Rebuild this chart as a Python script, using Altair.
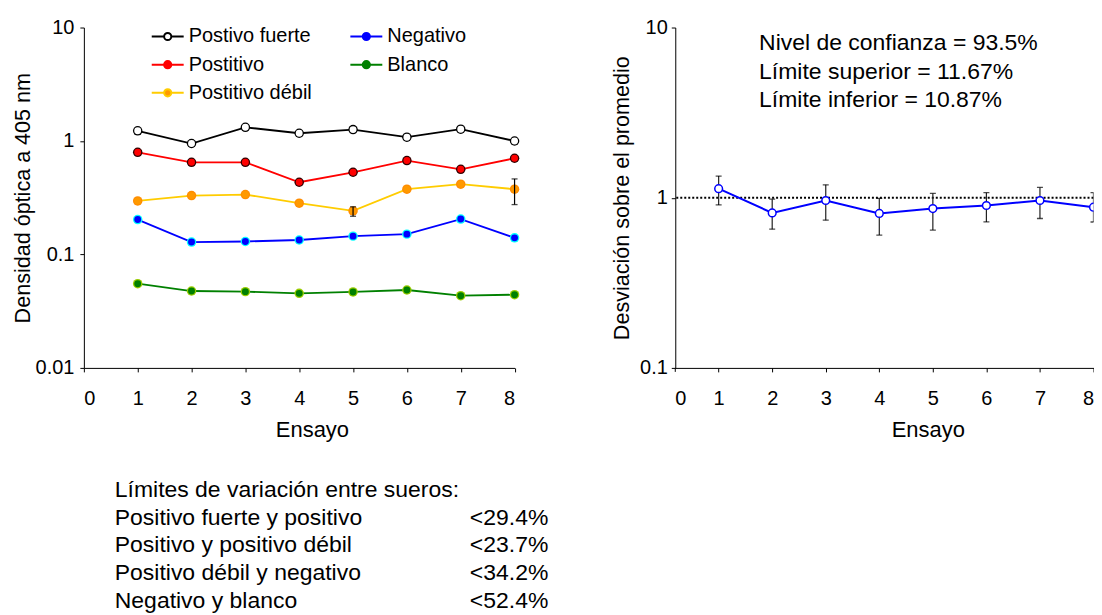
import altair as alt
import pandas as pd

FONT = "Liberation Sans"

# ---------------- data ----------------
ensayo = [1, 2, 3, 4, 5, 6, 7, 8]
series_names = ["Postivo fuerte", "Postitivo", "Postitivo débil", "Negativo", "Blanco"]
fuerte = [1.23, 0.95, 1.32, 1.17, 1.26, 1.08, 1.27, 1.00]
positivo = [0.795, 0.649, 0.649, 0.433, 0.530, 0.672, 0.563, 0.704]
debil = [0.296, 0.330, 0.337, 0.283, 0.242, 0.376, 0.416, 0.376]
negativo = [0.203, 0.1285, 0.130, 0.134, 0.145, 0.151, 0.205, 0.140]
blanco = [0.0552, 0.0476, 0.0470, 0.0454, 0.0467, 0.0486, 0.0433, 0.0442]

debil_err_x = [5, 8]
debil_err_lo = [0.217, 0.275]
debil_err_hi = [0.263, 0.463]

desv = [1.13, 0.814, 0.963, 0.808, 0.864, 0.90, 0.963, 0.88]
desv_lo = [0.907, 0.653, 0.738, 0.603, 0.645, 0.721, 0.755, 0.72]
desv_hi = [1.34, 0.98, 1.19, 0.99, 1.06, 1.07, 1.15, 1.07]
referencia = [1.0]

# right panel x axis starts a little after 0 (as in the original)
x_right_start = [0.19]
x_right_ticks = [1, 2, 3, 4, 5, 6, 7, 8]

legend_order = ["Postivo fuerte", "Postitivo", "Postitivo débil", "Negativo", "Blanco"]
line_colors = ["#000000", "#FF0000", "#FFCC00", "#0000FF", "#008000"]
fill_colors = ["#FFFFFF", "#FF0000", "#FF9900", "#0000FF", "#008000"]
halo_map = {"Postivo fuerte": "#000000", "Postitivo": "#300000", "Postitivo débil": "#FF8C00",
            "Negativo": "#00FFFF", "Blanco": "#99CC00"}

annot_lines = ["Nivel de confianza = 93.5%", "Límite superior = 11.67%", "Límite inferior = 10.87%"]
limits_labels = ["Límites de variación entre sueros:", "Positivo fuerte y positivo",
                 "Positivo y positivo débil", "Positivo débil y negativo", "Negativo y blanco"]
limits_values = ["<29.4%", "<23.7%", "<34.2%", "<52.4%"]

# ---------------- tables ----------------
vals = {"Postivo fuerte": fuerte, "Postitivo": positivo, "Postitivo débil": debil,
        "Negativo": negativo, "Blanco": blanco}
rows = []
for s in series_names:
    for e, v in zip(ensayo, vals[s]):
        rows.append({"ensayo": e, "valor": v, "serie": s, "halo": halo_map[s]})
df = pd.DataFrame(rows)
err_df = pd.DataFrame({"ensayo": debil_err_x, "lo": debil_err_lo, "hi": debil_err_hi})
rdf = pd.DataFrame({"ensayo": ensayo, "desv": desv, "lo": desv_lo, "hi": desv_hi})
ref_df = pd.DataFrame({"y": referencia})
zero_df = pd.DataFrame({"ensayo": x_right_start, "lab": ["0"]})
one = pd.DataFrame({"a": [0]})

# ---------------- left panel ----------------
xl = alt.X("ensayo:Q", scale=alt.Scale(domain=[0, 8], nice=False, zero=False),
           axis=alt.Axis(values=list(range(0, 9)), format="d", labelPadding=17, labelOverlap=False,
                         titleX=228.5, titlePadding=10.5),
           title="Ensayo")
yl = alt.Y("valor:Q", scale=alt.Scale(type="log", domain=[0.01, 10], nice=False),
           axis=alt.Axis(values=[0.01, 0.1, 1, 10], format="~g", labelPadding=6, titlePadding=1,
                         labelOverlap=False, titleFontSize=21.6),
           title="Densidad óptica a 405 nm")

sym_path = ("M-2,0L-0.45,0M0.45,0L2,0"
            "M-0.45,0A0.45,0.45 0 1,0 0.45,0A0.45,0.45 0 1,0 -0.45,0Z")
leg = alt.Legend(orient="none", legendX=74, legendY=-1, columns=2, title=None,
                 symbolType=sym_path, symbolSize=256, symbolStrokeWidth=2,
                 labelFontSize=20, labelFont=FONT, labelOffset=11, columnPadding=34,
                 rowPadding=8.2, padding=0, labelLimit=400, symbolOpacity=1)

base = alt.Chart(df).encode(x=xl, y=yl)
lines = base.mark_line(strokeWidth=1.8).encode(
    stroke=alt.Stroke("serie:N", scale=alt.Scale(domain=legend_order, range=line_colors), legend=leg))
halo = base.mark_circle(size=90, opacity=1).encode(color=alt.Color("halo:N", scale=None))
pts = base.mark_circle(size=48, opacity=1).encode(
    fill=alt.Fill("serie:N", scale=alt.Scale(domain=legend_order, range=fill_colors), legend=leg))

ebase = alt.Chart(err_df).encode(x=alt.X("ensayo:Q"))
e_rule = ebase.mark_rule(color="#000000", strokeWidth=1.2).encode(y="lo:Q", y2="hi:Q")
e_lo = ebase.mark_tick(orient="horizontal", size=6, thickness=1.3, color="#000000").encode(y="lo:Q")
e_hi = ebase.mark_tick(orient="horizontal", size=6, thickness=1.3, color="#000000").encode(y="hi:Q")

txt_left = alt.Chart(one).mark_text(align="left", baseline="top", fontSize=23, font=FONT,
                                    lineBreak="\n", lineHeight=27.7, color="black").encode(
    x=alt.value(31), y=alt.value(452.3), text=alt.value("\n".join(limits_labels)))
txt_right = alt.Chart(one).mark_text(align="left", baseline="top", fontSize=23, font=FONT,
                                     lineBreak="\n", lineHeight=27.7, color="black").encode(
    x=alt.value(386.7), y=alt.value(480), text=alt.value("\n".join(limits_values)))

left = alt.layer(lines, halo, pts, e_rule, e_lo, e_hi, txt_left, txt_right).properties(
    width=431.5, height=341)

# ---------------- right panel ----------------
xr = alt.X("ensayo:Q", scale=alt.Scale(domain=[x_right_start[0], 8], nice=False, zero=False),
           axis=alt.Axis(values=x_right_ticks, format="d", labelOverlap=False,
                         labelPadding=17, titleX=253, titlePadding=10.5),
           title="Ensayo")
yr_scale = alt.Scale(type="log", domain=[0.1, 10], nice=False)
yr_axis = alt.Axis(values=[0.1, 1, 10], format="~g", labelPadding=4, titlePadding=6,
                   labelOverlap=False, titleFontSize=21.6)

rbase = alt.Chart(rdf).encode(x=xr)
ref = alt.Chart(ref_df).mark_rule(color="black", strokeWidth=2, strokeDash=[2, 2], clip=True).encode(
    y=alt.Y("y:Q", scale=yr_scale, axis=yr_axis, title="Desviación sobre el promedio"))
r_rule = rbase.mark_rule(color="#222222", strokeWidth=1.2, clip=True).encode(y=alt.Y("lo:Q"), y2="hi:Q")
r_lo = rbase.mark_tick(orient="horizontal", size=6, thickness=1.3, color="#000000", clip=True).encode(y="lo:Q")
r_hi = rbase.mark_tick(orient="horizontal", size=6, thickness=1.3, color="#000000", clip=True).encode(y="hi:Q")
r_line = rbase.mark_line(color="#0000FF", strokeWidth=2, clip=True).encode(y="desv:Q")
r_pts = rbase.mark_point(filled=True, fill="white", stroke="#0000FF", strokeWidth=1.5,
                         size=60, opacity=1, clip=True).encode(y="desv:Q")
zero_lab = alt.Chart(zero_df).mark_text(align="left", baseline="middle", fontSize=20, font=FONT,
                                        color="black", dy=0).encode(
    x=alt.X("ensayo:Q"), y=alt.value(372), text="lab:N")
zero_tick = alt.Chart(zero_df).mark_rule(color="black", strokeWidth=1).encode(
    x=alt.X("ensayo:Q"), y=alt.value(341), y2=alt.value(345))
annot = alt.Chart(one).mark_text(align="left", baseline="top", fontSize=23, font=FONT,
                                 lineBreak="\n", lineHeight=28.3, color="black").encode(
    x=alt.value(84), y=alt.value(4.8), text=alt.value("\n".join(annot_lines)))

right = alt.layer(ref, r_rule, r_lo, r_hi, r_line, r_pts, zero_tick, zero_lab, annot).properties(
    width=419, height=341)

chart = alt.hconcat(left, right, spacing=62.5).properties(
    padding={"left": 4, "top": 9, "right": 0, "bottom": 0}
).configure_view(stroke=None).configure_axis(
    grid=False, domainColor="black", tickColor="black", labelColor="black", titleColor="black",
    labelFont=FONT, titleFont=FONT, labelFontSize=20, titleFontSize=22, titleFontWeight="normal",
    tickSize=4, domainWidth=1, tickWidth=1
)

chart.save("out.html", embed_options={"renderer": "svg", "actions": False})
